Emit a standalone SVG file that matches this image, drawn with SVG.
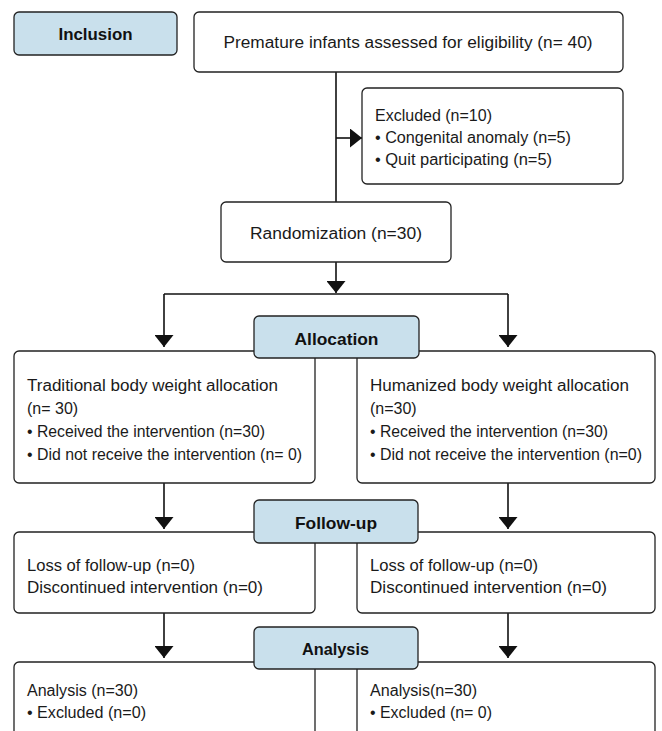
<svg xmlns="http://www.w3.org/2000/svg" width="662" height="731" viewBox="0 0 662 731">
<style>
  .box { fill: #ffffff; stroke: #222222; stroke-width: 1.3; }
  .lab { fill: #c9e0ec; stroke: #222222; stroke-width: 1.3; }
  .t { font-family: "Liberation Sans", Arial, sans-serif; font-size: 16px; fill: #1a1a1a; }
  .b { font-family: "Liberation Sans", Arial, sans-serif; font-size: 16.5px; font-weight: bold; fill: #111111; text-anchor: middle; }
  .c { text-anchor: middle; }
  .ln { fill: none; stroke: #111111; stroke-width: 1.6; }
</style>
<defs>
  <marker id="ah" markerUnits="userSpaceOnUse" markerWidth="12" markerHeight="19" viewBox="0 0 12 19" refX="12" refY="9.5" orient="auto">
    <path d="M0,0 L12,9.5 L0,19 Z" fill="#111111"/>
  </marker>
</defs>
<rect width="662" height="731" fill="#ffffff"/>
<g id="connectors">
  <path class="ln" d="M336,72 V202"/>
  <path class="ln" d="M336,138 H362" marker-end="url(#ah)"/>
  <path class="ln" d="M336,262 V293" marker-end="url(#ah)"/>
  <path class="ln" d="M164,294 H508"/>
  <path class="ln" d="M164,294 V347" marker-end="url(#ah)"/>
  <path class="ln" d="M508,294 V347" marker-end="url(#ah)"/>
  <path class="ln" d="M164,483 V529" marker-end="url(#ah)"/>
  <path class="ln" d="M508,483 V529" marker-end="url(#ah)"/>
  <path class="ln" d="M164,613 V658" marker-end="url(#ah)"/>
  <path class="ln" d="M508,613 V658" marker-end="url(#ah)"/>
</g>
<g id="inclusion">
  <rect class="lab" x="14" y="12" width="163" height="43" rx="5"/>
  <text class="b" x="95.5" y="40" textLength="74" lengthAdjust="spacingAndGlyphs">Inclusion</text>
</g>
<g id="assessed">
  <rect class="box" x="194" y="12" width="429" height="60" rx="5"/>
  <text class="t c" x="408" y="48" textLength="369" lengthAdjust="spacingAndGlyphs">Premature infants assessed for eligibility (n= 40)</text>
</g>
<g id="excluded">
  <rect class="box" x="362" y="88" width="261" height="96" rx="5"/>
  <text class="t" x="375" y="121" textLength="117" lengthAdjust="spacingAndGlyphs">Excluded (n=10)</text>
  <text class="t" x="375" y="143" textLength="196" lengthAdjust="spacingAndGlyphs">• Congenital anomaly (n=5)</text>
  <text class="t" x="375" y="165" textLength="177" lengthAdjust="spacingAndGlyphs">• Quit participating (n=5)</text>
</g>
<g id="randomization">
  <rect class="box" x="221" y="202" width="230" height="60" rx="5"/>
  <text class="t c" x="336" y="239" textLength="172" lengthAdjust="spacingAndGlyphs">Randomization (n=30)</text>
</g>
<g id="traditional">
  <rect class="box" x="14" y="351" width="301" height="132" rx="5"/>
  <text class="t" x="27" y="391" textLength="251" lengthAdjust="spacingAndGlyphs">Traditional body weight allocation</text>
  <text class="t" x="27" y="414">(n= 30)</text>
  <text class="t" x="27" y="437" textLength="238" lengthAdjust="spacingAndGlyphs">• Received the intervention (n=30)</text>
  <text class="t" x="27" y="460" textLength="275" lengthAdjust="spacingAndGlyphs">• Did not receive the intervention (n= 0)</text>
</g>
<g id="humanized">
  <rect class="box" x="357" y="351" width="298" height="132" rx="5"/>
  <text class="t" x="370" y="391" textLength="259" lengthAdjust="spacingAndGlyphs">Humanized body weight allocation</text>
  <text class="t" x="370" y="414">(n=30)</text>
  <text class="t" x="370" y="437" textLength="238" lengthAdjust="spacingAndGlyphs">• Received the intervention (n=30)</text>
  <text class="t" x="370" y="460" textLength="272" lengthAdjust="spacingAndGlyphs">• Did not receive the intervention (n=0)</text>
</g>
<g id="allocation">
  <rect class="lab" x="254" y="316" width="165" height="42" rx="5"/>
  <text class="b" x="336.5" y="345" textLength="84" lengthAdjust="spacingAndGlyphs">Allocation</text>
</g>
<g id="followup-left">
  <rect class="box" x="14" y="532" width="301" height="81" rx="5"/>
  <text class="t" x="27" y="571" textLength="168" lengthAdjust="spacingAndGlyphs">Loss of follow-up (n=0)</text>
  <text class="t" x="27" y="593" textLength="236" lengthAdjust="spacingAndGlyphs">Discontinued intervention (n=0)</text>
</g>
<g id="followup-right">
  <rect class="box" x="357" y="532" width="298" height="81" rx="5"/>
  <text class="t" x="370" y="571" textLength="168" lengthAdjust="spacingAndGlyphs">Loss of follow-up (n=0)</text>
  <text class="t" x="370" y="593" textLength="237" lengthAdjust="spacingAndGlyphs">Discontinued intervention (n=0)</text>
</g>
<g id="followup">
  <rect class="lab" x="254" y="500" width="164" height="43" rx="5"/>
  <text class="b" x="336" y="529" textLength="82" lengthAdjust="spacingAndGlyphs">Follow-up</text>
</g>
<g id="analysis-left">
  <rect class="box" x="14" y="662" width="301" height="100" rx="5"/>
  <text class="t" x="27" y="696" textLength="111" lengthAdjust="spacingAndGlyphs">Analysis (n=30)</text>
  <text class="t" x="27" y="718" textLength="119" lengthAdjust="spacingAndGlyphs">• Excluded (n=0)</text>
</g>
<g id="analysis-right">
  <rect class="box" x="357" y="662" width="298" height="100" rx="5"/>
  <text class="t" x="370" y="696" textLength="107" lengthAdjust="spacingAndGlyphs">Analysis(n=30)</text>
  <text class="t" x="370" y="718" textLength="122" lengthAdjust="spacingAndGlyphs">• Excluded (n= 0)</text>
</g>
<g id="analysis">
  <rect class="lab" x="254" y="627" width="164" height="42" rx="5"/>
  <text class="b" x="335.5" y="655" textLength="67" lengthAdjust="spacingAndGlyphs">Analysis</text>
</g>
</svg>
